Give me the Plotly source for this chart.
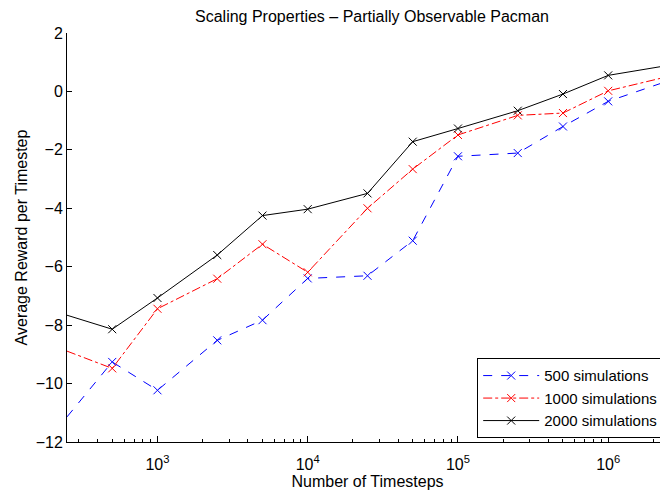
import numpy as np
import plotly.graph_objects as go

timesteps = [250, 500, 1000, 2500, 5000, 10000, 25000, 50000, 100000, 250000, 500000, 1000000, 2500000]
sims500 = [-11.14, -9.26, -10.23, -8.52, -7.83, -6.40, -6.31, -5.11, -2.22, -2.11, -1.20, -0.34, 0.36]
sims1000 = [-8.89, -9.48, -7.44, -6.41, -5.23, -6.19, -4.00, -2.66, -1.49, -0.82, -0.74, 0.02, 0.51]
sims2000 = [-7.66, -8.14, -7.07, -5.60, -4.25, -4.03, -3.49, -1.72, -1.27, -0.66, -0.09, 0.55, 0.89]

x_tickvals = [1e3, 1e4, 1e5, 1e6]
x_ticktext = ["10<sup>3</sup>", "10<sup>4</sup>", "10<sup>5</sup>", "10<sup>6</sup>"]
y_tickvals = [-12, -10, -8, -6, -4, -2, 0, 2]

minor_vals = [m * 10 ** e for e in range(2, 7) for m in range(2, 10)]

font_family = "Liberation Sans, Arial, sans-serif"

W, H = 660, 483

fig = go.Figure()
series = [
    ("500 simulations", sims500, "blue", "dash"),
    ("1000 simulations", sims1000, "red", "dashdot"),
    ("2000 simulations", sims2000, "black", "solid"),
]
for name, vals, color, dash in series:
    fig.add_trace(go.Scatter(
        x=timesteps, y=vals, name=name, mode="lines+markers",
        line=dict(color=color, width=1, dash=dash),
        marker=dict(symbol="x-thin", size=8, line=dict(color=color, width=1)),
        cliponaxis=False,
    ))

fig.update_layout(
    width=W, height=H,
    margin=dict(l=59, r=0, t=25, b=49, autoexpand=False),
    paper_bgcolor="white", plot_bgcolor="white",
    font=dict(family=font_family, size=16, color="black"),
    title=dict(text="Scaling Properties \u2013 Partially Observable Pacman",
               x=364 / W, xanchor="center", xref="container",
               y=1 - 8 / H, yanchor="middle", yref="container",
               font=dict(size=16)),
    showlegend=True,
    legend=dict(x=0.992, y=0.009, xanchor="right", yanchor="bottom",
                bordercolor="black", borderwidth=1, bgcolor="white",
                font=dict(size=15), tracegroupgap=0,
                itemwidth=56),
)
fig.update_xaxes(
    type="log", range=[np.log10(250), np.log10(2.5e6)],
    tickmode="array", tickvals=x_tickvals, ticktext=x_ticktext,
    ticks="inside", ticklen=6, tickcolor="black", tickwidth=1,
    ticklabelstandoff=8,
    minor=dict(tickmode="array", tickvals=minor_vals, ticks="inside", ticklen=3,
               tickcolor="black", tickwidth=1, showgrid=False),
    showline=True, linecolor="black", linewidth=1, mirror=False,
    showgrid=False, zeroline=False,
    title=dict(text="Number of Timesteps", standoff=0, font=dict(size=16)),
    tickfont=dict(size=16),
)
fig.update_yaxes(
    range=[-12, 2], tickmode="array", tickvals=y_tickvals,
    ticks="inside", ticklen=5, tickcolor="black", tickwidth=1,
    showline=True, linecolor="black", linewidth=1, mirror=False,
    showgrid=False, zeroline=False,
    title=dict(text="Average Reward per Timestep", standoff=4, font=dict(size=16)),
    tickfont=dict(size=16),
)

fig.write_html("out.html")
